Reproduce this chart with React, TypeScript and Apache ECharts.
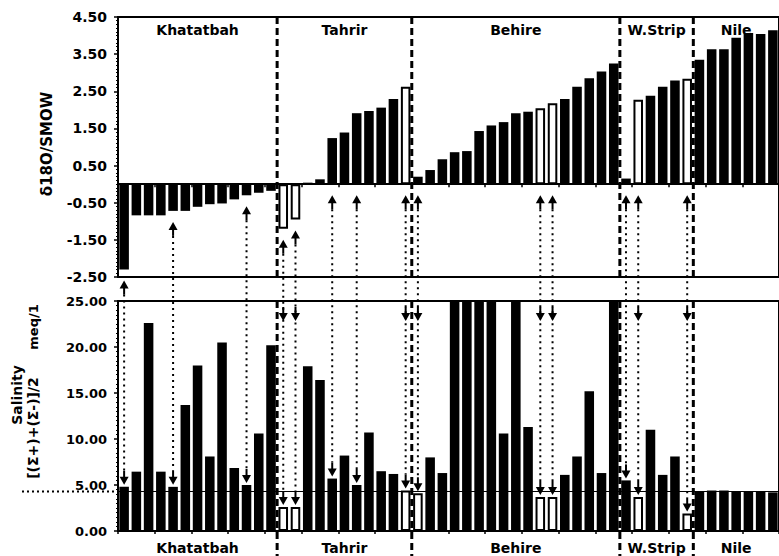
import React, { useEffect, useRef } from "react";
import * as echarts from "echarts";

// ---- data ----
const regionNames = ["Khatatbah", "Tahrir", "Behire", "W.Strip", "Nile"];
const regionCodes = ["K", "T", "B", "W", "N"];

// δ18O / SMOW (top panel)
const d18OKhatatbah = [-2.3, -0.84, -0.84, -0.84, -0.72, -0.72, -0.61, -0.54, -0.52, -0.41, -0.3, -0.23, -0.18];
const d18OTahrir = [-1.2, -0.95, 0.04, 0.13, 1.24, 1.39, 1.91, 1.97, 2.06, 2.29, 2.62];
const d18OBehire = [0.2, 0.38, 0.67, 0.86, 0.89, 1.43, 1.58, 1.67, 1.91, 1.95, 2.04, 2.18, 2.29, 2.62, 2.85, 3.03, 3.25];
const d18OWStrip = [0.15, 2.27, 2.38, 2.62, 2.79, 2.84];
const d18ONile = [3.35, 3.63, 3.63, 3.94, 4.07, 4.04, 4.14];

// Salinity [(Σ+)+(Σ-)]/2 meq/l (bottom panel)
const salKhatatbah = [4.8, 6.45, 22.6, 6.45, 4.8, 13.7, 18.0, 8.1, 20.5, 6.85, 5.0, 10.6, 20.2];
const salTahrir = [2.6, 2.6, 17.9, 16.4, 5.7, 8.2, 5.0, 10.7, 6.5, 6.2, 4.4];
const salBehire = [4.1, 8.0, 6.3, 25, 25, 25, 25, 10.6, 25, 11.3, 3.7, 3.7, 6.1, 8.1, 15.2, 6.3, 25];
const salWStrip = [5.5, 3.7, 11.0, 6.1, 8.1, 1.9];
const salNile = [4.3, 4.4, 4.4, 4.35, 4.3, 4.25, 4.2];

const nileLevel = 4.3;

// samples drawn as open bars
const hollowTop = [13, 14, 23, 34, 35, 42, 46];
const hollowBottom = [13, 14, 23, 24, 34, 35, 42, 46];
// samples linked by arrows between panels
const linkedSamples = [0, 4, 10, 13, 14, 17, 19, 23, 24, 34, 35, 41, 42, 46];
const linkedFromTop = [13, 14, 23, 24, 34, 35, 42, 46];

const topTicks = { min: -2.5, max: 4.5, interval: 1 };
const bottomTicks = { min: 0, max: 25, interval: 5 };

const topValues = [...d18OKhatatbah, ...d18OTahrir, ...d18OBehire, ...d18OWStrip, ...d18ONile];
const bottomValues = [...salKhatatbah, ...salTahrir, ...salBehire, ...salWStrip, ...salNile];
const regionSizes = [d18OKhatatbah.length, d18OTahrir.length, d18OBehire.length, d18OWStrip.length, d18ONile.length];
const categories: string[] = [];
regionSizes.forEach((n, r) => {
  for (let i = 0; i < n; i++) categories.push(regionCodes[r] + (i + 1));
});

const FONT = '"DejaVu Sans", sans-serif';

export default function App() {
  const ref = useRef<HTMLDivElement>(null);
  useEffect(() => {
    if (!ref.current) return;
    const chart = echarts.init(ref.current, null, { renderer: "svg" });

    const barData = (vals: number[], hollow: number[]) =>
      vals.map((v, i) =>
        hollow.includes(i)
          ? { value: v, itemStyle: { color: "#fff", borderColor: "#000", borderWidth: 2 } }
          : { value: v, itemStyle: { color: "#000" } }
      );

    const xAxisBase = (grid: number) => ({
      gridIndex: grid,
      type: "category",
      data: categories,
      boundaryGap: true,
      axisLine: { onZero: true, lineStyle: { color: "#000", width: 2 } },
      axisTick: { show: true, length: 3, lineStyle: { color: "#000", width: 1.5 } },
      axisLabel: { show: false },
      splitLine: { show: false },
    });

    const yAxisBase = (grid: number, t: any, fs: number) => ({
      gridIndex: grid,
      type: "value",
      min: t.min,
      max: t.max,
      interval: t.interval,
      axisLine: { show: true, lineStyle: { color: "#000", width: 2 } },
      axisTick: { show: true, length: 4, lineStyle: { color: "#000", width: 1.5 } },
      minorTick: { show: true, splitNumber: 10, length: 2, lineStyle: { color: "#000", width: 1 } },
      splitLine: { show: false },
      axisLabel: {
        color: "#000",
        fontFamily: FONT,
        fontWeight: "bold",
        fontSize: fs,
        margin: 11,
        formatter: (v: number) => v.toFixed(2),
      },
    });

    const option: any = {
      animation: false,
      backgroundColor: "#fff",
      grid: [
        { left: 118, right: -7, top: 17, height: 260, show: true, borderColor: "#000", borderWidth: 2, backgroundColor: "transparent" },
        { left: 118, right: -7, top: 301, height: 230, show: true, borderColor: "#000", borderWidth: 2, backgroundColor: "transparent" },
      ],
      xAxis: [xAxisBase(0), xAxisBase(1)],
      yAxis: [yAxisBase(0, topTicks, 14), yAxisBase(1, bottomTicks, 13)],
      series: [
        {
          type: "bar",
          xAxisIndex: 0,
          yAxisIndex: 0,
          data: barData(topValues, hollowTop),
          barCategoryGap: "22%",
        },
        {
          type: "bar",
          xAxisIndex: 1,
          yAxisIndex: 1,
          data: barData(bottomValues, hollowBottom),
          barCategoryGap: "22%",
          markLine: {
            silent: true,
            symbol: "none",
            label: { show: false },
            lineStyle: { color: "#000", width: 1, type: "solid" },
            data: [{ yAxis: nileLevel }],
          },
        },
      ],
    };
    chart.setOption(option);

    const P = (k: number, i: number, v: number) =>
      chart.convertToPixel({ xAxisIndex: k, yAxisIndex: k } as any, [i, v]) as number[];
    const top0 = P(0, 0, topTicks.max)[1];
    const bot0 = P(0, 0, topTicks.min)[1];
    const top1 = P(1, 0, bottomTicks.max)[1];
    const bot1 = P(1, 0, bottomTicks.min)[1];
    const half = (P(0, 1, 0)[0] - P(0, 0, 0)[0]) / 2;

    const g: any[] = [];
    const Z = 100;
    const starts: number[] = [];
    let acc = 0;
    regionSizes.forEach((n) => {
      starts.push(acc);
      acc += n;
    });

    // region separators
    for (let r = 1; r < regionSizes.length; r++) {
      const x = P(0, starts[r], 0)[0] - half;
      g.push({ type: "line", z: Z, shape: { x1: x, y1: top0, x2: x, y2: bot0 }, style: { stroke: "#000", lineWidth: 3, lineDash: [7, 4] } });
      g.push({ type: "line", z: Z, shape: { x1: x, y1: top1, x2: x, y2: 556 }, style: { stroke: "#000", lineWidth: 3, lineDash: [7, 4] } });
    }
    // region labels
    regionNames.forEach((name, r) => {
      const cx = (P(0, starts[r], 0)[0] + P(0, starts[r] + regionSizes[r] - 1, 0)[0]) / 2;
      const st = { fill: "#000", font: `bold 14px ${FONT}`, align: "center", verticalAlign: "middle" };
      g.push({ type: "text", z: Z, x: cx, y: 30, style: { ...st, text: name } });
      g.push({ type: "text", z: Z, x: cx, y: 548, style: { ...st, text: name } });
    });

    const upArrow = (x: number, tip: number) => [
      { type: "polygon", z: Z, shape: { points: [[x, tip], [x - 4.5, tip + 8], [x + 4.5, tip + 8]] }, style: { fill: "#000" } },
      { type: "line", z: Z, shape: { x1: x, y1: tip + 7, x2: x, y2: tip + 14 }, style: { stroke: "#000", lineWidth: 2 } },
    ];
    const downArrow = (x: number, tip: number) => [
      { type: "polygon", z: Z, shape: { points: [[x, tip], [x - 4.5, tip - 8], [x + 4.5, tip - 8]] }, style: { fill: "#000" } },
      { type: "line", z: Z, shape: { x1: x, y1: tip - 7, x2: x, y2: tip - 14 }, style: { stroke: "#000", lineWidth: 2 } },
    ];

    linkedSamples.forEach((i) => {
      const x = P(0, i, 0)[0];
      const tipTop = P(0, i, Math.min(topValues[i], 0))[1] + 11;
      const tipBot = P(1, i, bottomValues[i])[1] - 2;
      g.push(...upArrow(x, tipTop));
      g.push(...downArrow(x, tipBot));
      if (linkedFromTop.includes(i)) g.push(...downArrow(x, top1 + 20));
      g.push({
        type: "line",
        z: Z,
        shape: { x1: x, y1: tipTop + 14, x2: x, y2: tipBot - 14 },
        style: { stroke: "#000", lineWidth: 2, lineDash: [2, 4] },
      });
    });

    // Nile salinity reference line extending left of the axis
    const yRef = P(1, 0, nileLevel)[1];
    g.push({ type: "line", z: Z, shape: { x1: 22, y1: yRef, x2: 117, y2: yRef }, style: { stroke: "#000", lineWidth: 2, lineDash: [2, 3] } });

    // axis titles
    const rot = Math.PI / 2;
    g.push({ type: "text", z: Z, x: 47, y: 144, rotation: rot, style: { text: "δ18O/SMOW", fill: "#000", font: `bold 15px ${FONT}`, align: "center", verticalAlign: "middle" } });
    g.push({ type: "text", z: Z, x: 17, y: 395, rotation: rot, style: { text: "Salinity", fill: "#000", font: `bold 14px ${FONT}`, align: "center", verticalAlign: "middle" } });
    g.push({ type: "text", z: Z, x: 33, y: 428, rotation: rot, style: { text: "[(Σ+)+(Σ-)]/2", fill: "#000", font: `bold 14px ${FONT}`, align: "center", verticalAlign: "middle" } });
    g.push({ type: "text", z: Z, x: 33, y: 327, rotation: rot, style: { text: "meq/1", fill: "#000", font: `bold 13px ${FONT}`, align: "center", verticalAlign: "middle" } });

    chart.setOption({ graphic: g });

    return () => chart.dispose();
  }, []);

  return <div ref={ref} style={{ position: "fixed", left: 0, top: 0, width: 779, height: 556, background: "#fff" }} />;
}
